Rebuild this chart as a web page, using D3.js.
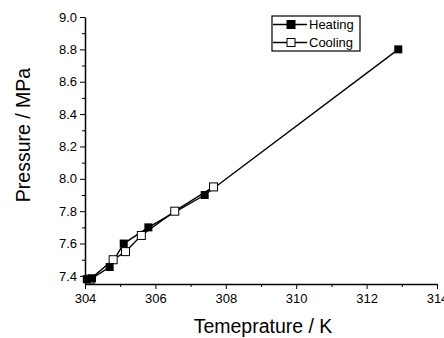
<!DOCTYPE html>
<html>
<head>
<meta charset="utf-8">
<script src="https://cdn.jsdelivr.net/npm/d3@7"></script>
<style>
  body { margin: 0; background: #fff; }
  text { font-family: "Liberation Sans", Arial, sans-serif; }
</style>
</head>
<body>
<div id="chart"></div>
<script>
const width = 444;
const height = 338;

// data
const heatingT = [304.05, 304.2, 304.7, 305.1, 305.8, 307.4, 312.9];
const heatingP = [7.38, 7.385, 7.455, 7.6, 7.7, 7.9, 8.8];
const coolingT = [304.15, 304.8, 305.15, 305.6, 306.55, 307.65];
const coolingP = [7.38, 7.5, 7.55, 7.65, 7.8, 7.95];
const xTicks = [304, 306, 308, 310, 312, 314];
const yTicks = [7.4, 7.6, 7.8, 8.0, 8.2, 8.4, 8.6, 8.8, 9.0];

const margin = { top: 17, right: 7, bottom: 54, left: 85 };

const svg = d3.select('#chart')
    .append('svg')
    .attr('width', width)
    .attr('height', height);

const x = d3.scaleLinear()
    .domain([304, 314])
    .range([margin.left, width - margin.right]);

const y = d3.scaleLinear()
    .domain([7.35, 9.0])
    .range([height - margin.bottom, margin.top]);

// minor ticks
svg.append('g')
    .attr('transform', `translate(0,${height - margin.bottom})`)
    .call(d3.axisBottom(x).tickValues(d3.range(305, 314, 2)).tickSize(3).tickFormat(''))
    .call(g => g.select('.domain').remove());
svg.append('g')
    .attr('transform', `translate(${margin.left},0)`)
    .call(d3.axisLeft(y).tickValues(d3.range(7.5, 9.0, 0.2)).tickSize(3).tickFormat(''))
    .call(g => g.select('.domain').remove());

// X axis
svg.append('g')
    .attr('transform', `translate(0,${height - margin.bottom})`)
    .call(d3.axisBottom(x).tickValues(xTicks).tickSize(5).tickSizeOuter(0).tickFormat(d3.format('d')))
    .call(g => g.selectAll('text').attr('font-size', 13).attr('dy', '0.85em').attr('fill', '#000'))
    .call(g => g.select('.domain').attr('stroke-width', 1.5));

// Y axis
svg.append('g')
    .attr('transform', `translate(${margin.left},0)`)
    .call(d3.axisLeft(y).tickValues(yTicks).tickSize(5).tickSizeOuter(0).tickFormat(d3.format('.1f')))
    .call(g => g.selectAll('text').attr('font-size', 13).attr('fill', '#000'))
    .call(g => g.select('.domain').attr('stroke-width', 1.5));

// titles
svg.append('text')
    .attr('x', 263)
    .attr('y', 333)
    .attr('text-anchor', 'middle')
    .attr('font-size', 19.5)
    .text('Temeprature / K');

svg.append('text')
    .attr('transform', 'translate(30,135) rotate(-90)')
    .attr('text-anchor', 'middle')
    .attr('font-size', 19.5)
    .text('Pressure / MPa');

const line = d3.line()
    .x(d => x(d[0]))
    .y(d => y(d[1]));

const heating = heatingT.map((t, i) => [t, heatingP[i]]);
const cooling = coolingT.map((t, i) => [t, coolingP[i]]);

const ms = 8;

svg.append('path')
    .datum(heating)
    .attr('d', line)
    .attr('fill', 'none')
    .attr('stroke', '#000')
    .attr('stroke-width', 1.4);

svg.append('path')
    .datum(cooling)
    .attr('d', line)
    .attr('fill', 'none')
    .attr('stroke', '#000')
    .attr('stroke-width', 1.4);

svg.append('g')
    .selectAll('rect')
    .data(cooling)
    .join('rect')
        .attr('x', d => x(d[0]) - ms / 2)
        .attr('y', d => y(d[1]) - ms / 2)
        .attr('width', ms)
        .attr('height', ms)
        .attr('fill', '#fff')
        .attr('stroke', '#000')
        .attr('stroke-width', 1);

svg.append('g')
    .selectAll('rect')
    .data(heating)
    .join('rect')
        .attr('x', d => x(d[0]) - ms / 2)
        .attr('y', d => y(d[1]) - ms / 2)
        .attr('width', ms)
        .attr('height', ms)
        .attr('fill', '#000');

// legend
const legend = svg.append('g').attr('transform', 'translate(272,16)');
legend.append('rect')
    .attr('width', 88)
    .attr('height', 35)
    .attr('fill', '#fff')
    .attr('stroke', '#000')
    .attr('stroke-width', 1.2);

const items = [
    { name: 'Heating', fill: '#000', dy: 8.5 },
    { name: 'Cooling', fill: '#fff', dy: 26.5 }
];
items.forEach(it => {
    legend.append('line')
        .attr('x1', 1).attr('x2', 35)
        .attr('y1', it.dy).attr('y2', it.dy)
        .attr('stroke', '#000')
        .attr('stroke-width', 1.3);
    legend.append('rect')
        .attr('x', 19 - ms / 2)
        .attr('y', it.dy - ms / 2)
        .attr('width', ms)
        .attr('height', ms)
        .attr('fill', it.fill)
        .attr('stroke', '#000');
    legend.append('text')
        .attr('x', 37)
        .attr('y', it.dy + 4.5)
        .attr('font-size', 13)
        .text(it.name);
});
</script>
</body>
</html>
